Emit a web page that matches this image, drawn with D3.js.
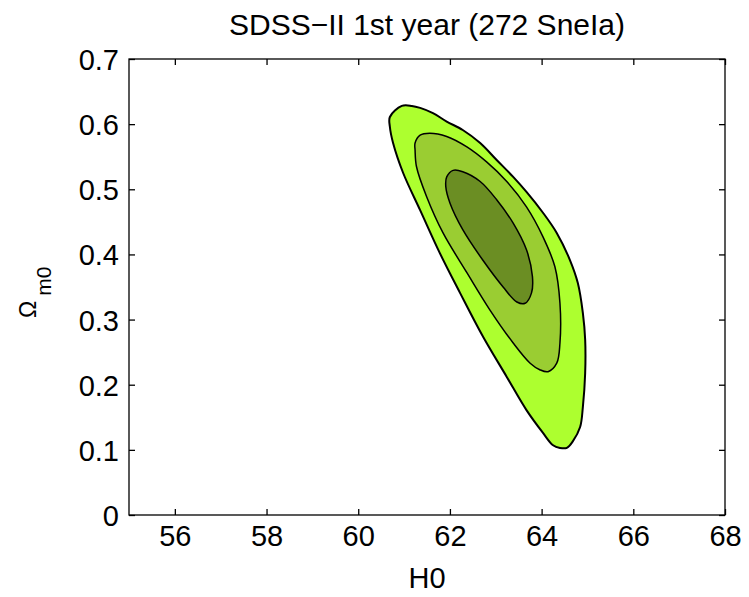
<!DOCTYPE html>
<html>
<head>
<meta charset="utf-8">
<script src="https://cdn.jsdelivr.net/npm/d3@7"></script>
<style>
  html, body { margin: 0; padding: 0; background: #fff; }
  svg { display: block; }
  text { font-family: "Liberation Sans", Arial, Helvetica, sans-serif; fill: #000; }
</style>
</head>
<body>
<svg id="chart" width="749" height="597"></svg>
<script>
// ---- data ----
const title = "SDSS\u2212II 1st year (272 SneIa)";
const xLabel = "H0";
const xTicks = [56, 58, 60, 62, 64, 66, 68];
const yTicks = [0, 0.1, 0.2, 0.3, 0.4, 0.5, 0.6, 0.7];
const yTickLabels = ["0", "0.1", "0.2", "0.3", "0.4", "0.5", "0.6", "0.7"];
const xDomain = [55, 68];
const yDomain = [0, 0.7];

// confidence contours: [H0, Omega_m0]
const contour3sigma = [
  [60.69,0.611],[60.95,0.628],[61.17,0.628],[61.35,0.625],[61.63,0.617],[61.93,0.604],
  [62.28,0.591],[62.66,0.571],[63.02,0.545],[63.38,0.519],[63.67,0.496],[64.03,0.464],
  [64.33,0.433],[64.62,0.391],[64.79,0.356],[64.90,0.310],[64.95,0.269],[64.95,0.218],
  [64.90,0.166],[64.84,0.135],[64.68,0.113],[64.55,0.103],[64.40,0.103],[64.25,0.107],
  [64.03,0.126],[63.67,0.161],[63.24,0.212],[62.72,0.274],[62.22,0.341],[61.78,0.402],
  [61.35,0.468],[60.98,0.525],[60.76,0.571],[60.69,0.596]
];
const contour2sigma = [
  [61.24,0.571],[61.35,0.583],[61.56,0.586],[61.93,0.581],[62.37,0.565],[62.80,0.542],
  [63.24,0.512],[63.67,0.473],[64.03,0.427],[64.29,0.381],[64.40,0.325],[64.40,0.264],
  [64.33,0.233],[64.14,0.220],[63.96,0.223],[63.75,0.233],[63.38,0.264],[62.87,0.315],
  [62.37,0.372],[61.85,0.433],[61.49,0.489],[61.27,0.535],[61.24,0.560]
];
const contour1sigma = [
  [61.93,0.519],[62.07,0.529],[62.28,0.527],[62.66,0.512],[63.02,0.484],[63.38,0.448],
  [63.67,0.407],[63.80,0.366],[63.78,0.341],[63.64,0.325],[63.46,0.327],[63.16,0.350],
  [62.72,0.391],[62.28,0.438],[62.00,0.479],[61.91,0.504]
];
const contours = [contour3sigma, contour2sigma, contour1sigma];
const contourColors = ["#adff2f", "#9acd32", "#6b8e23"];

// ---- layout ----
const svg = d3.select("#chart");
const L = 129, R = 725, T = 59, B = 515;
const x = d3.scaleLinear().domain(xDomain).range([L, R]);
const y = d3.scaleLinear().domain(yDomain).range([B, T]);

const line = d3.line().x(d => x(d[0])).y(d => y(d[1])).curve(d3.curveCatmullRomClosed.alpha(0.5));

svg.append("g").selectAll("path").data(contours).join("path")
  .attr("d", d => line(d))
  .attr("fill", (d, i) => contourColors[i])
  .attr("stroke", "#000")
  .attr("stroke-width", (d, i) => i === 0 ? 2 : 1.5)
  .attr("stroke-linejoin", "round");

const fontSize = 29;
// bottom axis
const gx = svg.append("g").attr("transform", `translate(0,${B})`)
  .call(d3.axisBottom(x).tickValues(xTicks).tickSizeInner(-6).tickSizeOuter(0).tickPadding(10).tickFormat(d3.format("d")));
// top axis (mirror ticks)
const gxt = svg.append("g").attr("transform", `translate(0,${T})`)
  .call(d3.axisTop(x).tickValues(xTicks).tickSizeInner(-6).tickSizeOuter(0).tickFormat(""));
// left axis
const gy = svg.append("g").attr("transform", `translate(${L},0)`)
  .call(d3.axisLeft(y).tickValues(yTicks).tickSizeInner(-6).tickSizeOuter(0).tickPadding(10)
    .tickFormat((d, i) => yTickLabels[i]));
// right axis
const gyr = svg.append("g").attr("transform", `translate(${R},0)`)
  .call(d3.axisRight(y).tickValues(yTicks).tickSizeInner(-6).tickSizeOuter(0).tickFormat(""));

[gx, gxt, gy, gyr].forEach(g => {
  g.select(".domain").remove();
  g.selectAll(".tick line").attr("stroke", "#000").attr("stroke-width", 1.3);
  g.selectAll(".tick text").attr("font-size", fontSize)
    .attr("font-family", '"Liberation Sans", Arial, sans-serif').attr("fill", "#000");
});
gx.selectAll(".tick text").attr("dy", "0.71em");
gy.selectAll(".tick text").attr("dy", "0.36em");

// frame
svg.append("rect").attr("x", L).attr("y", T).attr("width", R - L).attr("height", B - T)
  .attr("fill", "none").attr("stroke", "#000").attr("stroke-width", 1.3);

// title
svg.append("text").attr("x", (L + R) / 2).attr("y", 35).attr("text-anchor", "middle")
  .attr("font-size", 30).text(title);

// x label
svg.append("text").attr("x", (L + R) / 2).attr("y", 588).attr("text-anchor", "middle")
  .attr("font-size", fontSize).text(xLabel);

// y label  Omega_m0
const yl = svg.append("text").attr("transform", "translate(36,318) rotate(-90)")
  .attr("text-anchor", "start");
yl.append("tspan").attr("font-size", 23).text("\u03A9");
yl.append("tspan").attr("font-size", 21).attr("dx", 5).attr("dy", 15).text("m0");
</script>
</body>
</html>
